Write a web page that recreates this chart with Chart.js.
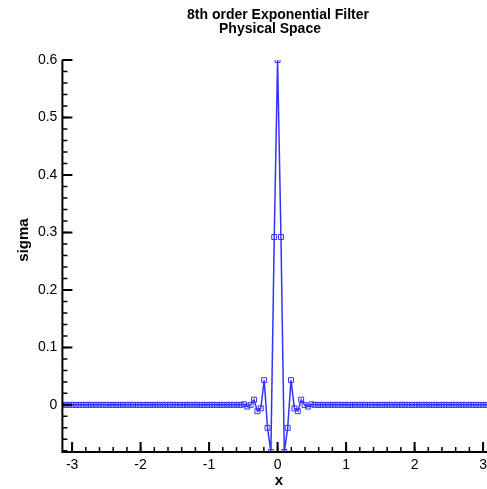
<!DOCTYPE html>
<html>
<head>
<meta charset="utf-8">
<script src="https://cdn.jsdelivr.net/npm/chart.js@4"></script>
<style>
  html, body { margin: 0; padding: 0; background: #fff; overflow: hidden; }
  #wrap { position: relative; width: 487px; height: 489px; }
  canvas { display: block; }
</style>
</head>
<body>
<div id="wrap"><canvas id="chart"></canvas></div>
<script>
// grid points, -pi .. pi, 129 samples
const xs = [
  -3.142, -3.093, -3.043, -2.994, -2.945, -2.896, -2.847, -2.798,
  -2.749, -2.700, -2.651, -2.602, -2.553, -2.503, -2.454, -2.405,
  -2.356, -2.307, -2.258, -2.209, -2.160, -2.111, -2.062, -2.013,
  -1.963, -1.914, -1.865, -1.816, -1.767, -1.718, -1.669, -1.620,
  -1.571, -1.522, -1.473, -1.424, -1.374, -1.325, -1.276, -1.227,
  -1.178, -1.129, -1.080, -1.031, -0.982, -0.933, -0.884, -0.834,
  -0.785, -0.736, -0.687, -0.638, -0.589, -0.540, -0.491, -0.442,
  -0.393, -0.344, -0.295, -0.245, -0.196, -0.147, -0.098, -0.049,
  0,
  0.049, 0.098, 0.147, 0.196, 0.245, 0.295, 0.344, 0.393,
  0.442, 0.491, 0.540, 0.589, 0.638, 0.687, 0.736, 0.785,
  0.834, 0.884, 0.933, 0.982, 1.031, 1.080, 1.129, 1.178,
  1.227, 1.276, 1.325, 1.374, 1.424, 1.473, 1.522, 1.571,
  1.620, 1.669, 1.718, 1.767, 1.816, 1.865, 1.914, 1.963,
  2.013, 2.062, 2.111, 2.160, 2.209, 2.258, 2.307, 2.356,
  2.405, 2.454, 2.503, 2.553, 2.602, 2.651, 2.700, 2.749,
  2.798, 2.847, 2.896, 2.945, 2.994, 3.043, 3.093, 3.142
];

const sigma = [
  0, 0, 0, 0, 0, 0, 0, 0, 0, 0,
  0, 0, 0, 0, 0, 0, 0, 0, 0, 0,
  0, 0, 0, 0, 0, 0, 0, 0, 0, 0,
  0, 0, 0, 0, 0, 0, 0, 0, 0, 0,
  0, 0, 0, 0, 0, 0, 0, 0, 0, 0,
  0, 0, 0,
  0, 0.001, -0.003, 0, 0.009, -0.011, -0.006, 0.043, -0.040, -0.082, 0.292,
  0.600,
  0.292, -0.082, -0.040, 0.043, -0.006, -0.011, 0.009, 0, -0.003, 0.001, 0,
  0, 0, 0,
  0, 0, 0, 0, 0, 0, 0, 0, 0, 0,
  0, 0, 0, 0, 0, 0, 0, 0, 0, 0,
  0, 0, 0, 0, 0, 0, 0, 0, 0, 0,
  0, 0, 0, 0, 0, 0, 0, 0, 0, 0,
  0, 0, 0, 0, 0, 0, 0, 0, 0, 0
];

const xTicks = [-3, -2, -1, 0, 1, 2, 3];
const yTicks = [0, 0.1, 0.2, 0.3, 0.4, 0.5, 0.6];
const xMinor = [-3, -2.8, -2.6, -2.4, -2.2, -2, -1.8, -1.6, -1.4, -1.2, -1, -0.8, -0.6, -0.4, -0.2,
  0, 0.2, 0.4, 0.6, 0.8, 1, 1.2, 1.4, 1.6, 1.8, 2, 2.2, 2.4, 2.6, 2.8, 3];
const yMinor = [-0.08, -0.06, -0.04, -0.02, 0, 0.02, 0.04, 0.06, 0.08, 0.1, 0.12, 0.14, 0.16, 0.18, 0.2,
  0.22, 0.24, 0.26, 0.28, 0.3, 0.32, 0.34, 0.36, 0.38, 0.4, 0.42, 0.44, 0.46, 0.48, 0.5,
  0.52, 0.54, 0.56, 0.58, 0.6];
// the frame runs to pi, but the picture is cut off at the window edge
const xRange = [-3.1416, 3.057];
const yRange = [-0.082, 0.6];
const titleLines = ["8th order Exponential Filter", "Physical Space"];
const xTitle = "x";
const yTitle = "sigma";

const FONT = "'Liberation Sans', Arial, Helvetica, sans-serif";
const BLUE = "rgb(50,50,255)";

const axesPlugin = {
  id: "axes",
  afterDraw(chart) {
    const ctx = chart.ctx;
    const area = chart.chartArea;
    const sx = chart.scales.x;
    const sy = chart.scales.y;
    ctx.save();
    ctx.strokeStyle = "#000";
    ctx.lineWidth = 2;
    ctx.lineJoin = "miter";
    ctx.beginPath();
    ctx.moveTo(area.left, area.top);
    ctx.lineTo(area.left, area.bottom);
    ctx.lineTo(area.right + 2, area.bottom);
    ctx.stroke();

    // minor ticks, pointing into the plot
    ctx.lineWidth = 1.5;
    ctx.beginPath();
    xMinor.forEach((v) => {
      const px = sx.getPixelForValue(v);
      ctx.moveTo(px, area.bottom);
      ctx.lineTo(px, area.bottom - 5);
    });
    yMinor.forEach((v) => {
      const py = sy.getPixelForValue(v);
      ctx.moveTo(area.left, py);
      ctx.lineTo(area.left + 5, py);
    });
    ctx.stroke();

    // major ticks
    ctx.lineWidth = 2;
    ctx.beginPath();
    xTicks.forEach((v) => {
      const px = sx.getPixelForValue(v);
      ctx.moveTo(px, area.bottom);
      ctx.lineTo(px, area.bottom - 10);
    });
    yTicks.forEach((v) => {
      const py = sy.getPixelForValue(v);
      ctx.moveTo(area.left, py);
      ctx.lineTo(area.left + 10, py);
    });
    ctx.stroke();

    // titles
    ctx.fillStyle = "#000";
    ctx.textAlign = "center";
    ctx.textBaseline = "alphabetic";
    ctx.font = "bold 14px " + FONT;
    ctx.fillText(titleLines[0], 278, 19);
    ctx.fillText(titleLines[1], 270, 33);

    ctx.font = "bold 15px " + FONT;
    ctx.fillText(xTitle, 279, 485);

    ctx.translate(28, 240);
    ctx.rotate(-Math.PI / 2);
    ctx.fillText(yTitle, 0, 0);
    ctx.restore();
  },
};

document.addEventListener("DOMContentLoaded", () => {
  new Chart(document.getElementById("chart"), {
    type: "line",
    data: {
      datasets: [
        {
          data: xs.map((x, i) => ({ x: x, y: sigma[i] })),
          borderColor: BLUE,
          borderWidth: 1.5,
          pointStyle: "rect",
          pointRadius: 3.5,
          pointBorderWidth: 1,
          pointBorderColor: BLUE,
          pointBackgroundColor: "rgba(0,0,0,0)",
          tension: 0,
        },
      ],
    },
    options: {
      responsive: true,
      maintainAspectRatio: false,
      animation: false,
      layout: {
        autoPadding: false,
        padding: { top: 60, left: 0, right: 0, bottom: 0 },
      },
      plugins: {
        legend: { display: false },
        title: { display: false },
        tooltip: { enabled: false },
      },
      scales: {
        x: {
          type: "linear",
          min: xRange[0],
          max: xRange[1],
          afterBuildTicks: (s) => {
            s.ticks = xTicks.map((v) => ({ value: v }));
          },
          afterFit: (s) => {
            s.height = 37;
            s.paddingLeft = 0;
            s.paddingRight = 0;
          },
          grid: { display: false, drawTicks: false },
          border: { display: false },
          ticks: {
            padding: 5,
            color: "#000",
            maxRotation: 0,
            font: { family: FONT, size: 14 },
            callback: (v) => String(v),
          },
        },
        y: {
          type: "linear",
          min: yRange[0],
          max: yRange[1],
          afterBuildTicks: (s) => {
            s.ticks = yTicks.map((v) => ({ value: v }));
          },
          afterFit: (s) => {
            s.width = 62.4;
          },
          grid: { display: false, drawTicks: false },
          border: { display: false },
          ticks: {
            padding: 5,
            color: "#000",
            font: { family: FONT, size: 14 },
            callback: (v) => String(v),
          },
        },
      },
    },
    plugins: [axesPlugin],
  });
});
</script>
</body>
</html>
